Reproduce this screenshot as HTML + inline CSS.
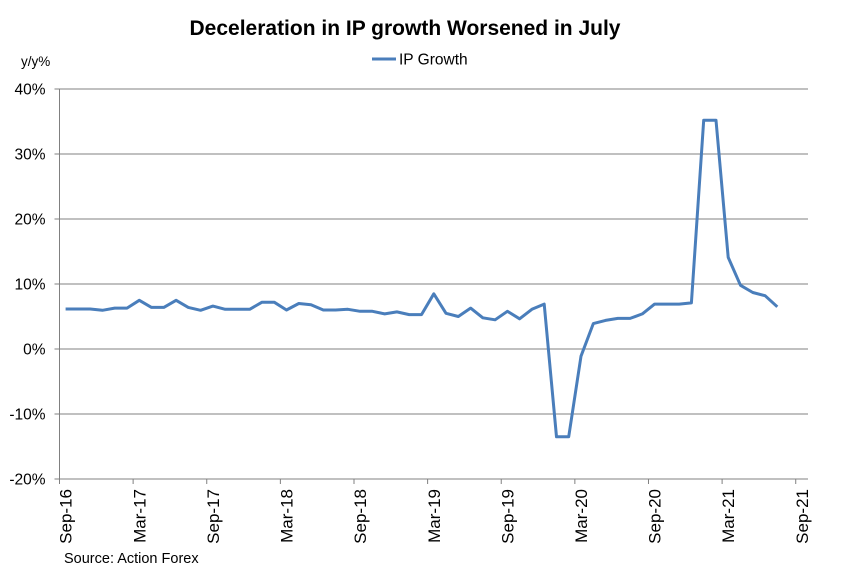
<!DOCTYPE html>
<html><head><meta charset="utf-8"><style>
body{margin:0;background:#fff;}
svg text{font-family:"Liberation Sans",Arial,sans-serif;}
</style></head><body>
<svg id="chart" width="850" height="581" xmlns="http://www.w3.org/2000/svg">
<rect width="850" height="581" fill="#fff"/>
<text x="405" y="35" text-anchor="middle" font-size="21" font-weight="bold">Deceleration in IP growth Worsened in July</text>
<text x="21" y="66" font-size="13.5">y/y%</text>
<g>
<line x1="372" y1="59" x2="396" y2="59" stroke="#4a7ebb" stroke-width="3"/>
<text x="399" y="64.5" font-size="15.5">IP Growth</text>
</g>
<g id="grid"></g>
<g id="axes"></g>
<text x="64" y="563" font-size="14.5">Source: Action Forex</text>
</svg>
<script>
const values=[6.15,6.15,6.15,5.95,6.3,6.3,7.5,6.4,6.4,7.5,6.4,5.95,6.6,6.1,6.1,6.1,7.2,7.2,6.0,7.0,6.8,6.0,6.0,6.1,5.8,5.8,5.4,5.7,5.3,5.3,8.5,5.5,5.0,6.3,4.8,4.5,5.8,4.65,6.1,6.9,-13.5,-13.5,-1.1,3.9,4.4,4.7,4.7,5.4,6.9,6.9,6.9,7.1,35.2,35.2,14.1,9.8,8.7,8.2,6.5];
const yTicks=[40,30,20,10,0,-10,-20];
const xLabels=["Sep-16","Mar-17","Sep-17","Mar-18","Sep-18","Mar-19","Sep-19","Mar-20","Sep-20","Mar-21","Sep-21"];
const nCats=61;
const X0=59.5,X1=808,Y0=89,Y1=479,ymin=-20,ymax=40;
const cw=(X1-X0)/nCats;
const xs=i=>X0+(i+0.5)*cw;
const ys=v=>Y0+(ymax-v)/(ymax-ymin)*(Y1-Y0);
const NS="http://www.w3.org/2000/svg";
const svg=document.getElementById('chart');
const grid=document.getElementById('grid');
const axes=document.getElementById('axes');
function mk(t,a,p){const e=document.createElementNS(NS,t);for(const k in a)e.setAttribute(k,a[k]);p.appendChild(e);return e;}
yTicks.forEach(v=>{
  const y=ys(v);
  const l=mk('line',{x1:X0-5,x2:X1,y1:y,y2:y,stroke:'#808080','stroke-width':1},grid);
  
  
  const t=mk('text',{x:X0-14,y:y+5.5,'text-anchor':'end','font-size':15.5},axes);
  t.textContent=v+'%';
  
  
});
const ax=mk('line',{x1:X0,x2:X0,y1:Y0,y2:Y1,stroke:'#808080'},axes);


xLabels.forEach((s,k)=>{
  const xt=X0+k*6*cw;
  const tk=mk('line',{x1:xt,x2:xt,y1:Y1,y2:Y1+5,stroke:'#808080'},axes);
  
  
  const cx=xs(k*6)+6;
  const t=mk('text',{x:0,y:0,'text-anchor':'end','font-size':17,transform:`translate(${cx},${Y1+10}) rotate(-90)`},axes);
  t.textContent=s;
  
  
});
const pts=values.map((v,i)=>xs(i).toFixed(1)+','+ys(v).toFixed(1)).join(' ');
const pl=mk('polyline',{points:pts,fill:'none',stroke:'#4a7ebb','stroke-width':3,'stroke-linejoin':'round'},svg);


</script>
</body></html>
